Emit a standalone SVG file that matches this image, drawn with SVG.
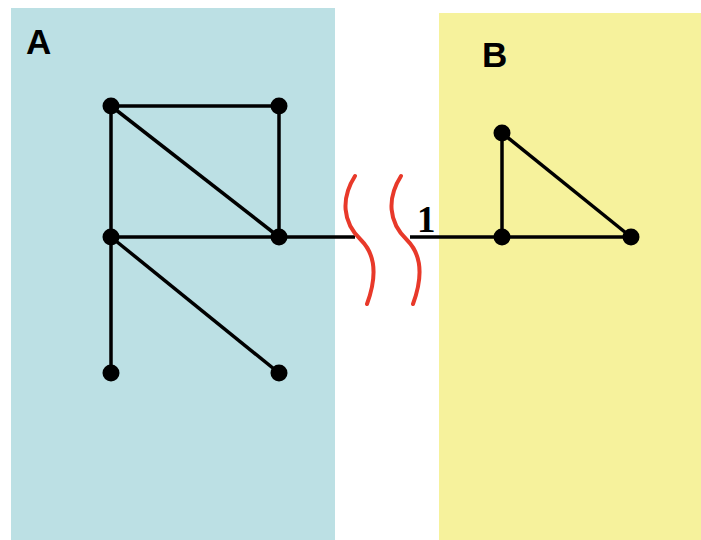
<svg xmlns="http://www.w3.org/2000/svg" width="701" height="540" viewBox="0 0 701 540">
<style>
.edge{stroke:#000;stroke-width:3.5;fill:none}
.node{fill:#000}
.cut{stroke:#e8392a;stroke-width:4;fill:none;stroke-linecap:round}
.lbl{font-family:"Liberation Sans",Arial,sans-serif;font-weight:bold;font-size:35px;fill:#000}
.num{font-family:"Liberation Serif","Times New Roman",serif;font-weight:bold;font-size:37px;fill:#000}
</style>
<rect width="701" height="540" fill="#fff"/>
<g id="panelA"><rect x="11" y="8" width="324" height="532" fill="#bce0e4"/><text class="lbl" x="26" y="54">A</text></g>
<g id="panelB"><rect x="439" y="13" width="262" height="527" fill="#f6f29c"/><text class="lbl" x="482" y="67">B</text></g>
<g id="connectors">
<line class="edge" x1="111" y1="106" x2="279" y2="106"/>
<line class="edge" x1="111" y1="106" x2="111" y2="373"/>
<line class="edge" x1="279" y1="106" x2="279" y2="237"/>
<line class="edge" x1="111" y1="106" x2="279" y2="237"/>
<line class="edge" x1="111" y1="237" x2="279" y2="237"/>
<line class="edge" x1="111" y1="237" x2="279" y2="373"/>
<line class="edge" x1="279" y1="237" x2="355" y2="237"/>
<line class="edge" x1="410" y1="237" x2="631" y2="237"/>
<line class="edge" x1="502" y1="133" x2="502" y2="237"/>
<line class="edge" x1="502" y1="133" x2="631" y2="237"/>
</g>
<g id="cut">
<path class="cut" d="M355,176 C341,198 342,222 361,240 C379,258 374,285 367,304"/>
<path class="cut" d="M401,176 C387,198 388,222 407,240 C425,258 420,285 413,304"/>
<text class="num" x="417" y="232">1</text>
</g>
<g id="nodes">
<circle id="a1" class="node" cx="111" cy="106" r="8.5"/>
<circle id="a2" class="node" cx="279" cy="106" r="8.5"/>
<circle id="a3" class="node" cx="111" cy="237" r="8.5"/>
<circle id="a4" class="node" cx="279" cy="237" r="8.5"/>
<circle id="a5" class="node" cx="111" cy="373" r="8.5"/>
<circle id="a6" class="node" cx="279" cy="373" r="8.5"/>
<circle id="b1" class="node" cx="502" cy="133" r="8.5"/>
<circle id="b2" class="node" cx="502" cy="237" r="8.5"/>
<circle id="b3" class="node" cx="631" cy="237" r="8.5"/>
</g>
</svg>
